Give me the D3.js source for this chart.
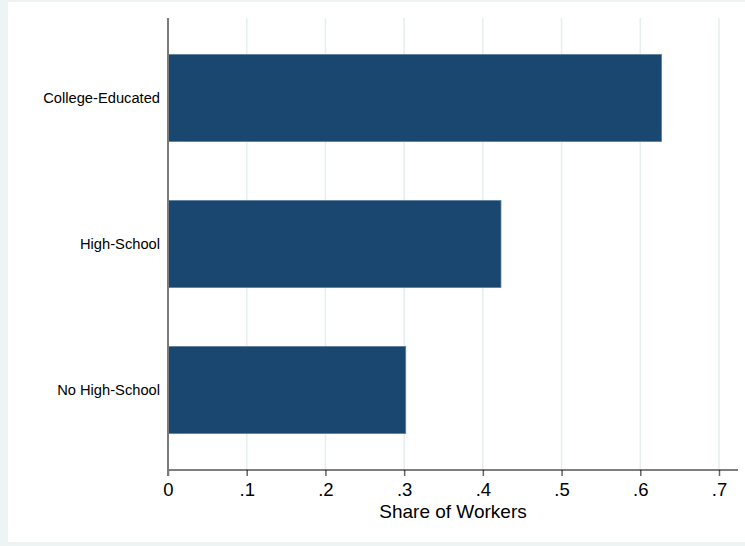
<!DOCTYPE html>
<html>
<head>
<meta charset="utf-8">
<script src="https://cdn.jsdelivr.net/npm/d3@7"></script>
<style>
  body { margin: 0; background: #fff; }
  text { font-family: Arial, "Liberation Sans", sans-serif; }
</style>
</head>
<body>
<div id="content"></div>
<script>
// categories and values (share of workers)
var categories = ["College-Educated", "High-School", "No High-School"];
var shares = [0.627, 0.423, 0.302];
var xTicks = [0, 0.1, 0.2, 0.3, 0.4, 0.5, 0.6, 0.7];
var xTitle = "Share of Workers";

var width = 745, height = 546;
var margin = {top: 18, right: 7, bottom: 76, left: 168};

var svg = d3.select("#content").append("svg")
  .attr("width", width)
  .attr("height", height);

// graph region (light tint) and white inner area
svg.append("rect").attr("width", width).attr("height", height).attr("fill", "#eef4f4");
svg.append("rect").attr("x", 8).attr("y", 2).attr("width", width - 8).attr("height", 540).attr("fill", "#fff");

var x_scale = d3.scaleLinear().domain([0, 0.7]).range([margin.left, 719]);
var y_scale = d3.scaleBand().domain(categories)
  .range([margin.top, height - margin.bottom])
  .paddingInner(0.404).paddingOuter(0.25);

// vertical gridlines
svg.append("g").selectAll("line")
  .data(xTicks.slice(1))
  .enter().append("line")
  .attr("x1", function(d) { return x_scale(d); })
  .attr("x2", function(d) { return x_scale(d); })
  .attr("y1", margin.top)
  .attr("y2", height - margin.bottom)
  .attr("stroke", "#e6eef0")
  .attr("stroke-width", 1.5);

// bars
svg.append("g").selectAll("rect")
  .data(categories)
  .enter().append("rect")
  .attr("x", x_scale(0))
  .attr("y", function(d) { return y_scale(d); })
  .attr("width", function(d, i) { return x_scale(shares[i]) - x_scale(0); })
  .attr("height", y_scale.bandwidth())
  .attr("fill", "#1a476f")
  .attr("stroke", "#5c7d9b")
  .attr("stroke-width", 0.8);

// bottom axis
var xAxis = svg.append("g")
  .attr("transform", "translate(0," + (height - margin.bottom) + ")")
  .call(d3.axisBottom(x_scale).tickValues(xTicks).tickSize(6).tickPadding(7)
    .tickFormat(function(d) { return d === 0 ? "0" : d3.format(".1f")(d).replace(/^0/, ""); }));
xAxis.select(".domain").remove();
xAxis.append("line")
  .attr("x1", x_scale(0)).attr("x2", 738)
  .attr("stroke", "#000").attr("stroke-width", 1.2);
xAxis.selectAll(".tick line").attr("stroke", "#666").attr("stroke-width", 1.5);
xAxis.selectAll(".tick text")
  .attr("fill", "#000")
  .style("font-size", "18.5px")
  .style("font-family", "Arial, 'Liberation Sans', sans-serif");

// left axis
svg.append("line")
  .attr("x1", x_scale(0)).attr("x2", x_scale(0))
  .attr("y1", margin.top).attr("y2", height - margin.bottom + 6)
  .attr("stroke", "#7a7a7a").attr("stroke-width", 2);

// category labels
svg.append("g").selectAll("text")
  .data(categories)
  .enter().append("text")
  .attr("x", 160)
  .attr("y", function(d) { return y_scale(d) + y_scale.bandwidth() / 2; })
  .attr("dy", "0.35em")
  .attr("text-anchor", "end")
  .style("font-size", "14.7px")
  .attr("fill", "#000")
  .text(function(d) { return d; });

// x title
svg.append("text")
  .attr("x", 453)
  .attr("y", 518)
  .attr("text-anchor", "middle")
  .style("font-size", "19px")
  .attr("fill", "#000")
  .text(xTitle);
</script>
</body>
</html>
